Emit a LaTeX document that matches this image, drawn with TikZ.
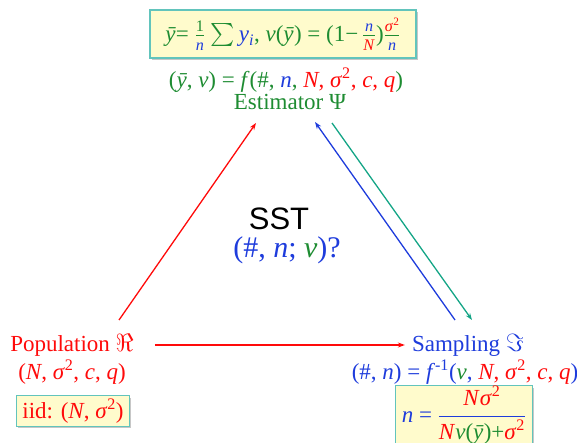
\documentclass[tikz,border=0pt]{standalone}
\usepackage{amsmath,amssymb}
\usepackage{fontspec}
\setmainfont{Liberation Serif}
\newfontfamily\sstfont{Liberation Sans}
\usetikzlibrary{arrows.meta,shadows}
\definecolor{popred}{HTML}{FF0A0A}
\definecolor{sampblue}{HTML}{1E3CDC}
\definecolor{estgreen}{HTML}{1E8C32}
\definecolor{tealarr}{HTML}{14A586}
\definecolor{boxfill}{HTML}{FFFBCC}
\definecolor{boxline}{HTML}{62C4BC}
% coloured / italic pieces
\newcommand{\redt}[1]{\textcolor{popred}{#1}}
\newcommand{\bluet}[1]{\textcolor{sampblue}{#1}}
\newcommand{\greent}[1]{\textcolor{estgreen}{#1}}
\newcommand{\itv}[1]{\textit{#1}}
\newcommand{\ybar}{\textit{\={y}}}
\newcommand{\sigsq}{\textit{σ}\textsuperscript{2}}
\newcommand{\tfr}[2]{$\frac{\text{#1}}{\text{#2}}$}

\tikzset{
  hlbox/.style={draw=boxline, fill=boxfill, line width=1.2pt, inner xsep=6pt, inner ysep=4pt,
    drop shadow={shadow xshift=1.8pt, shadow yshift=-1.8pt, fill=gray!55, opacity=0.8}},
  link/.style={-{Stealth[length=7pt,width=5pt]}, line width=1.3pt},
  lbl/.style={inner sep=1pt},
}

\begin{document}
\begin{tikzpicture}[x=1pt,y=-1pt,font=\fontsize{23}{27}\selectfont]
\useasboundingbox (0,0) rectangle (577,443);
% estimator corner (top)
\node[hlbox, text=estgreen, minimum width=266pt, minimum height=48pt] (estbox) at (283,34)
  {\ybar= \tfr{1}{\bluet{\itv{n}}} $\sum$\,\bluet{\itv{y}\textsubscript{\itv{i}}}, \itv{v}(\ybar) = (1−\,\tfr{\bluet{\itv{n}}}{\redt{\itv{N}}})\tfr{\redt{\sigsq}}{\bluet{\itv{n}}}};
\node[lbl, text=estgreen] (estf) at (286,80)
  {(\ybar, \itv{v}) = \itv{f}(\#, \bluet{\itv{n}}, \redt{\itv{N}, \sigsq, \itv{c}, \itv{q}})};
\node[lbl, text=estgreen] (est) at (290,102) {Estimator Ψ};
% centre question
\node[lbl, font=\sstfont\fontsize{31}{34}\selectfont] (sst) at (279,219) {SST};
\node[lbl, text=sampblue, font=\fontsize{30}{34}\selectfont] (quest) at (287,250)
  {(\#, \itv{n}; \greent{\itv{v}})?};
% population corner (left)
\node[lbl, text=popred] (pop) at (72,345) {Population $\Re$};
\node[lbl, text=popred] (popf) at (72,372) {(\itv{N}, \sigsq, \itv{c}, \itv{q})};
\node[hlbox, text=popred, inner ysep=3pt] (iid) at (73,411) {iid: (\itv{N}, \sigsq)};
% sampling corner (right)
\node[lbl, text=sampblue] (samp) at (468,345) {Sampling $\Im$};
\node[lbl, text=sampblue] (sampf) at (465,372)
  {(\#, \itv{n}) = \itv{f}\textsuperscript{-1}(\greent{\itv{v}}, \redt{\itv{N}, \sigsq, \itv{c}, \itv{q}})};
\node[hlbox, text=sampblue, inner ysep=0pt] (nbox) at (464,415)
  {\itv{n} = $\dfrac{\text{\redt{\itv{N}\sigsq}}}{\text{\redt{\itv{N}}\greent{\itv{v}(\ybar)+}\redt{\sigsq}}}$};
% arrow ends
\coordinate (popUp) at (119,320);
\coordinate (estL) at (256,123);
\coordinate (estR) at (315,122);
\coordinate (sampUp) at (455,320);
\coordinate (estR2) at (332,123);
\coordinate (sampUp2) at (472,320);
% connectors
\draw[link, popred] (popUp) -- (estL);
\draw[link, sampblue] (sampUp) -- (estR);
\draw[link, tealarr] (estR2) -- (sampUp2);
\draw[link, popred] ([xshift=20pt]pop.east) -- ([xshift=-6pt]samp.west);
\end{tikzpicture}
\end{document}
